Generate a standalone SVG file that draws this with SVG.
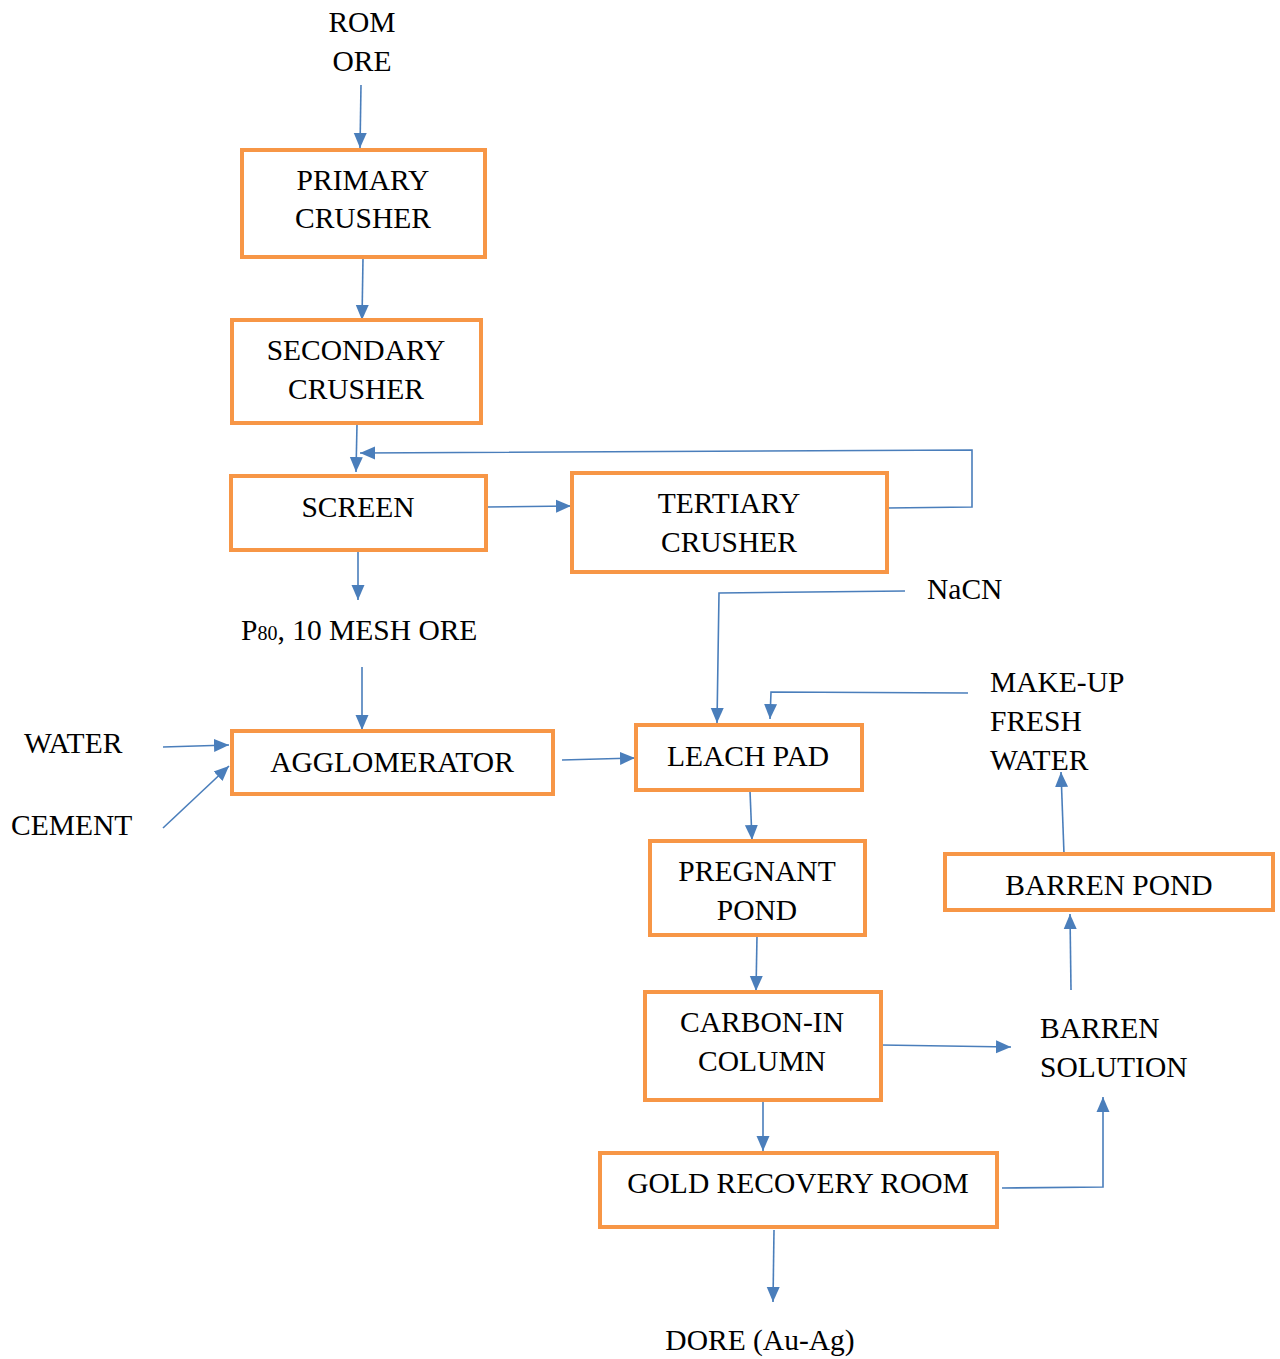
<svg xmlns="http://www.w3.org/2000/svg" width="1280" height="1359" viewBox="0 0 1280 1359">
<style>
.box{fill:#fff;stroke:#F79646;stroke-width:4}
.t{font-family:"Liberation Serif","Times New Roman",serif;font-size:29.5px;fill:#000}
.c{text-anchor:middle}
.ln{fill:none;stroke:#4A7EBB;stroke-width:1.6}
</style>
<defs>
<marker id="ah" markerUnits="userSpaceOnUse" markerWidth="16" markerHeight="16" viewBox="0 0 16 16" refX="15" refY="8" orient="auto">
<path d="M0,1.5 L15,8 L0,14.5 Z" fill="#4A7EBB"/>
</marker>
</defs>
<rect width="1280" height="1359" fill="#fff"/>
<g id="connectors">
<path class="ln" marker-end="url(#ah)" d="M361,85 L360,148"/>
<path class="ln" marker-end="url(#ah)" d="M363,258 L362,320"/>
<path class="ln" marker-end="url(#ah)" d="M357,424 L356,472"/>
<path class="ln" marker-end="url(#ah)" d="M887,508 L972,507 L972,450 L360,453"/>
<path class="ln" marker-end="url(#ah)" d="M487,507 L571,506"/>
<path class="ln" marker-end="url(#ah)" d="M358,551 L358,600"/>
<path class="ln" marker-end="url(#ah)" d="M362,667 L362,730"/>
<path class="ln" marker-end="url(#ah)" d="M163,747 L229,745"/>
<path class="ln" marker-end="url(#ah)" d="M163,828 L229,766"/>
<path class="ln" marker-end="url(#ah)" d="M562,760 L635,758"/>
<path class="ln" marker-end="url(#ah)" d="M905,591 L719,593 L717,723"/>
<path class="ln" marker-end="url(#ah)" d="M968,693 L771,692 L770,719"/>
<path class="ln" marker-end="url(#ah)" d="M750,791 L752,840"/>
<path class="ln" marker-end="url(#ah)" d="M757,936 L756,991"/>
<path class="ln" marker-end="url(#ah)" d="M881,1045 L1011,1047"/>
<path class="ln" marker-end="url(#ah)" d="M763,1100 L763,1151"/>
<path class="ln" marker-end="url(#ah)" d="M1002,1188 L1103,1187 L1103,1097"/>
<path class="ln" marker-end="url(#ah)" d="M1071,990 L1070,914"/>
<path class="ln" marker-end="url(#ah)" d="M1064,854 L1061,772"/>
<path class="ln" marker-end="url(#ah)" d="M774,1230 L773,1302"/>
</g>
<g id="rom-ore"><text class="t c" x="362" y="32">ROM</text><text class="t c" x="362" y="71">ORE</text></g>
<g id="primary-crusher"><rect class="box" x="242" y="150" width="243" height="107"/><text class="t c" x="363" y="190">PRIMARY</text><text class="t c" x="363" y="228">CRUSHER</text></g>
<g id="secondary-crusher"><rect class="box" x="232" y="320" width="249" height="103"/><text class="t c" x="356" y="360">SECONDARY</text><text class="t c" x="356" y="399">CRUSHER</text></g>
<g id="screen"><rect class="box" x="231" y="476" width="255" height="74"/><text class="t c" x="358" y="517">SCREEN</text></g>
<g id="tertiary-crusher"><rect class="box" x="572" y="473" width="315" height="99"/><text class="t c" x="729" y="513">TERTIARY</text><text class="t c" x="729" y="552">CRUSHER</text></g>
<g id="nacn"><text class="t" x="927" y="599">NaCN</text></g>
<g id="p80"><text class="t" x="241" y="640">P<tspan font-size="20">80</tspan>, 10 MESH ORE</text></g>
<g id="water"><text class="t" x="24" y="753">WATER</text></g>
<g id="cement"><text class="t" x="11" y="835">CEMENT</text></g>
<g id="agglomerator"><rect class="box" x="232" y="731" width="321" height="63"/><text class="t c" x="392" y="772">AGGLOMERATOR</text></g>
<g id="leach-pad"><rect class="box" x="636" y="725" width="226" height="65"/><text class="t c" x="748" y="766">LEACH PAD</text></g>
<g id="makeup-water"><text class="t" x="990" y="692">MAKE-UP</text><text class="t" x="990" y="731">FRESH</text><text class="t" x="990" y="770">WATER</text></g>
<g id="pregnant-pond"><rect class="box" x="650" y="841" width="215" height="94"/><text class="t c" x="757" y="881">PREGNANT</text><text class="t c" x="757" y="920">POND</text></g>
<g id="barren-pond"><rect class="box" x="945" y="854" width="328" height="56"/><text class="t c" x="1109" y="895">BARREN POND</text></g>
<g id="carbon-in-column"><rect class="box" x="645" y="992" width="236" height="108"/><text class="t c" x="762" y="1032">CARBON-IN</text><text class="t c" x="762" y="1071">COLUMN</text></g>
<g id="barren-solution"><text class="t" x="1040" y="1038">BARREN</text><text class="t" x="1040" y="1077">SOLUTION</text></g>
<g id="gold-recovery-room"><rect class="box" x="600" y="1153" width="397" height="74"/><text class="t c" x="798" y="1193">GOLD RECOVERY ROOM</text></g>
<g id="dore"><text class="t c" x="760" y="1350">DORE (Au-Ag)</text></g>
</svg>
